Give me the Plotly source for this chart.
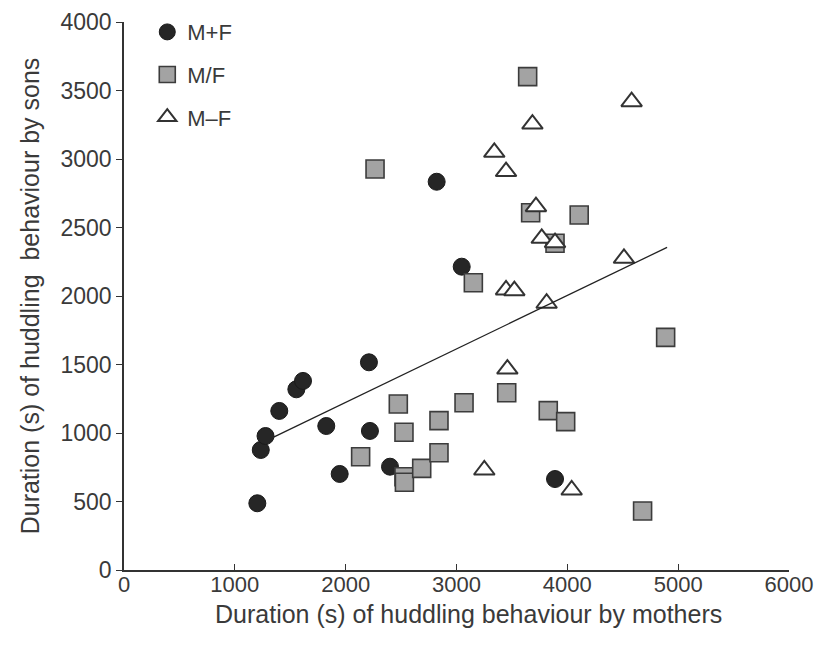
import plotly.graph_objects as go

# M+F (filled circles)
mf_plus_x = [1203, 1234, 1277, 1401, 1555, 1615, 1825, 1946, 2210, 2219, 2400, 2821, 3047, 3889]
mf_plus_y = [487, 876, 978, 1161, 1319, 1380, 1051, 701, 1516, 1015, 754, 2834, 2214, 664]

# M/F (grey squares)
mf_div_x = [2135, 2265, 2475, 2526, 2526, 2530, 2686, 2842, 2842, 3068, 3152, 3453, 3642, 3669,
            3828, 3889, 3985, 4107, 4679, 4887]
mf_div_y = [827, 2927, 1212, 1005, 681, 640, 742, 1090, 856, 1221, 2097, 1294, 3601, 2608,
            1163, 2385, 1083, 2591, 431, 1698]

# M-F (open triangles)
mf_minus_x = [4580, 3685, 3341, 3447, 3717, 3769, 3889, 4511, 3447, 3522, 3813, 3459, 3251, 4039]
mf_minus_y = [3418, 3255, 3049, 2908, 2652, 2421, 2389, 2275, 2044, 2039, 1947, 1467, 730, 584]

# regression line endpoints
fit_x = [1350, 4900]
fit_y = [970, 2355]

x_ticks = [0, 1000, 2000, 3000, 4000, 5000, 6000]
y_ticks = [0, 500, 1000, 1500, 2000, 2500, 3000, 3500, 4000]

FONT = "Liberation Sans, Arial, Helvetica, sans-serif"
TXT = "#3a3a3a"

fig = go.Figure()
fig.add_trace(go.Scatter(
    x=mf_plus_x, y=mf_plus_y, mode="markers", name="M+F", legendgroup="a",
    marker=dict(symbol="circle", size=17, color="#262626", line=dict(color="#1a1a1a", width=1)),
))
fig.add_trace(go.Scatter(
    x=mf_div_x, y=mf_div_y, mode="markers", name="M/F", legendgroup="b",
    marker=dict(symbol="square", size=18, color="#a3a3a3", line=dict(color="#3c3c3c", width=1.6)),
))
fig.add_trace(go.Scatter(
    x=mf_minus_x, y=mf_minus_y, mode="markers", name="M\u2013F", legendgroup="c",
    marker=dict(symbol="triangle-up", size=18, color="white", line=dict(color="#333333", width=2)),
))
fig.add_trace(go.Scatter(
    x=fit_x, y=fit_y, mode="lines", showlegend=False,
    line=dict(color="#222222", width=1.3),
))

fig.update_layout(
    width=821, height=653,
    margin=dict(l=124, r=32, t=22, b=83, autoexpand=False),
    paper_bgcolor="white", plot_bgcolor="white",
    font=dict(family=FONT, size=23, color=TXT),
    showlegend=True,
    legend=dict(
        xref="paper", yref="container",
        x=0.035, y=0.983, xanchor="left", yanchor="top",
        bgcolor="rgba(0,0,0,0)", tracegroupgap=11,
        font=dict(family=FONT, size=22, color=TXT),
        itemwidth=30,
    ),
    annotations=[dict(
        text="Duration (s) of huddling behaviour by mothers",
        xref="paper", yref="paper", x=0.518, y=-0.081, xanchor="center", yanchor="middle",
        showarrow=False, font=dict(family=FONT, size=25, color=TXT),
    )],
)
fig.update_xaxes(
    range=[0, 6000], tickvals=x_ticks, ticktext=[str(v) for v in x_ticks],
    showgrid=False, zeroline=False, showline=True, linecolor="#333333", linewidth=1.5,
    ticks="inside", ticklen=6, tickwidth=1.3, tickcolor="#333333",
    tickfont=dict(family=FONT, size=22, color=TXT), ticklabelstandoff=-6,
    automargin=False,
)
fig.update_yaxes(
    range=[0, 4000], tickvals=y_ticks, ticktext=[str(v) for v in y_ticks],
    showgrid=False, zeroline=False, showline=True, linecolor="#333333", linewidth=1.5,
    ticks="outside", ticklen=6, tickwidth=1.3, tickcolor="#333333",
    tickfont=dict(family=FONT, size=23, color=TXT),
    title=dict(text="Duration (s) of huddling\u00a0 behaviour by sons",
               font=dict(family=FONT, size=25, color=TXT), standoff=14),
    automargin=False,
)

fig.write_html("out.html")
